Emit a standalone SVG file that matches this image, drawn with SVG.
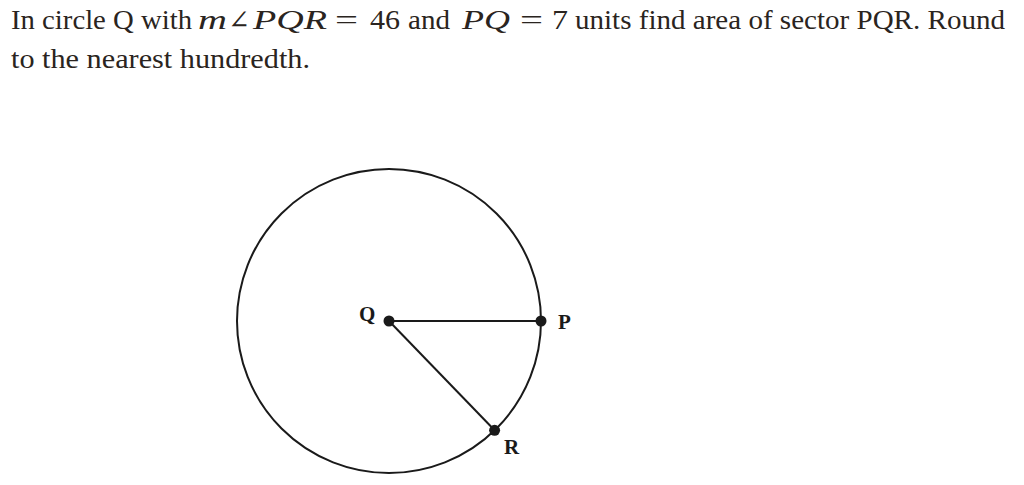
<svg xmlns="http://www.w3.org/2000/svg" width="1024" height="485" viewBox="0 0 1024 485">
<style>
.t{font-family:"Liberation Serif","DejaVu Serif",serif;font-size:26.5px;fill:#2a2420}
.i{font-style:italic}
.ang{font-family:"DejaVu Serif","Liberation Serif",serif;font-size:26px}
.lbl{font-family:"Liberation Serif","DejaVu Serif",serif;font-size:21px;font-weight:bold;fill:#1a1a1a}
.ln{stroke:#1a1a1a;stroke-width:2;fill:none}
.dot{fill:#1a1a1a}
</style>
<rect width="1024" height="485" fill="#ffffff"/>
<g id="question">
<text class="t" y="29">
<tspan x="11" textLength="181" lengthAdjust="spacingAndGlyphs">In circle Q with</tspan>
<tspan class="i" x="198" textLength="29" lengthAdjust="spacingAndGlyphs">m</tspan>
<tspan class="ang" x="228" textLength="22" lengthAdjust="spacingAndGlyphs">∠</tspan>
<tspan class="i" x="253" textLength="74" lengthAdjust="spacingAndGlyphs">PQR</tspan>
<tspan x="335" textLength="23" lengthAdjust="spacingAndGlyphs">=</tspan>
<tspan x="370" textLength="30" lengthAdjust="spacingAndGlyphs">46</tspan>
<tspan x="408" textLength="42" lengthAdjust="spacingAndGlyphs">and</tspan>
<tspan class="i" x="462" textLength="48" lengthAdjust="spacingAndGlyphs">PQ</tspan>
<tspan x="520" textLength="23" lengthAdjust="spacingAndGlyphs">=</tspan>
<tspan x="552" textLength="16" lengthAdjust="spacingAndGlyphs">7</tspan>
<tspan x="575" textLength="430" lengthAdjust="spacingAndGlyphs">units find area of sector PQR. Round</tspan>
</text>
<text class="t" x="11" y="68" textLength="299" lengthAdjust="spacingAndGlyphs">to the nearest hundredth.</text>
</g>
<g id="circle">
<circle class="ln" cx="389" cy="321" r="152"/>
</g>
<g id="connectors">
<line class="ln" x1="389" y1="321" x2="541" y2="321"/>
<line class="ln" x1="389" y1="321" x2="494.6" y2="430.3"/>
</g>
<g id="Q">
<circle class="dot" cx="389" cy="321" r="5.5"/>
<text class="lbl" x="359" y="321">Q</text>
</g>
<g id="P">
<circle class="dot" cx="541" cy="321" r="5.5"/>
<text class="lbl" x="558" y="329">P</text>
</g>
<g id="R">
<circle class="dot" cx="494.6" cy="430.3" r="5.5"/>
<text class="lbl" x="504" y="454">R</text>
</g>
</svg>
